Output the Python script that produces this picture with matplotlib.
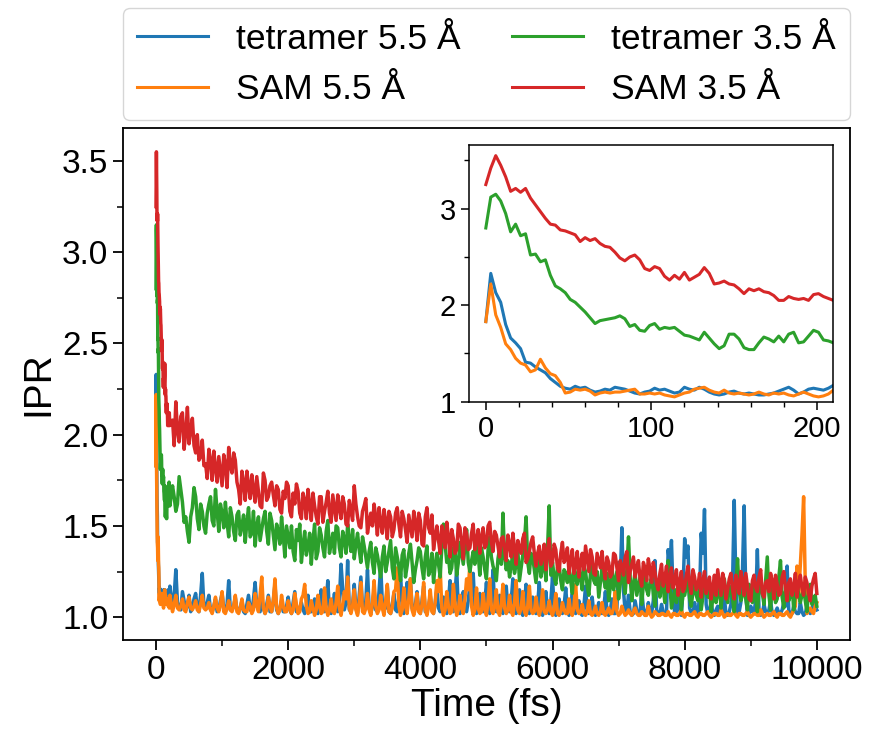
import numpy as np
import matplotlib
matplotlib.use("Agg")
import matplotlib.pyplot as plt
from matplotlib.ticker import MultipleLocator, FormatStrFormatter

plt.rcParams['font.family'] = ['Liberation Sans', 'DejaVu Sans']

# ---- data: early part (0-210 fs, shown in inset and main) ----
t_early = np.arange(0, 211, 3)
tet55_early = [1.83, 2.33, 2.13, 2.03, 1.80, 1.66, 1.61, 1.55, 1.41, 1.40,
               1.36, 1.33, 1.30, 1.24, 1.20, 1.16, 1.14, 1.13, 1.16, 1.14,
               1.15, 1.12, 1.10, 1.11, 1.13, 1.12, 1.15, 1.14, 1.13, 1.11,
               1.09, 1.08, 1.10, 1.11, 1.14, 1.12, 1.13, 1.11, 1.09, 1.10,
               1.15, 1.13, 1.12, 1.15, 1.13, 1.10, 1.08, 1.07, 1.08, 1.10,
               1.11, 1.09, 1.08, 1.09, 1.08, 1.07, 1.07, 1.08, 1.09, 1.11,
               1.13, 1.15, 1.12, 1.08, 1.10, 1.13, 1.14, 1.13, 1.12, 1.14, 1.17]
sam55_early = [1.83, 2.22, 1.90, 1.77, 1.60, 1.54, 1.45, 1.40, 1.38, 1.31,
               1.33, 1.44, 1.35, 1.29, 1.27, 1.20, 1.09, 1.10, 1.13, 1.12,
               1.13, 1.11, 1.07, 1.09, 1.10, 1.09, 1.10, 1.10, 1.11, 1.12,
               1.13, 1.08, 1.08, 1.09, 1.08, 1.09, 1.07, 1.06, 1.05, 1.07,
               1.09, 1.10, 1.13, 1.14, 1.15, 1.12, 1.10, 1.09, 1.12, 1.09,
               1.08, 1.09, 1.08, 1.07, 1.08, 1.10, 1.08, 1.07, 1.09, 1.08,
               1.09, 1.07, 1.06, 1.08, 1.10, 1.08, 1.06, 1.05, 1.06, 1.08, 1.12]
tet35_early = [2.80, 3.12, 3.15, 3.08, 2.95, 2.76, 2.84, 2.72, 2.74, 2.52,
               2.53, 2.45, 2.47, 2.31, 2.20, 2.17, 2.13, 2.06, 2.03, 1.98,
               1.93, 1.87, 1.81, 1.84, 1.85, 1.86, 1.87, 1.89, 1.86, 1.78,
               1.80, 1.74, 1.73, 1.79, 1.81, 1.75, 1.77, 1.76, 1.77, 1.73,
               1.69, 1.68, 1.66, 1.64, 1.72, 1.66, 1.60, 1.55, 1.58, 1.70,
               1.70, 1.65, 1.56, 1.54, 1.54, 1.61, 1.67, 1.65, 1.62, 1.68,
               1.62, 1.70, 1.72, 1.61, 1.62, 1.68, 1.74, 1.72, 1.64, 1.63, 1.61]
sam35_early = [3.25, 3.42, 3.55, 3.45, 3.33, 3.18, 3.21, 3.17, 3.21, 3.11,
               3.04, 2.97, 2.90, 2.84, 2.83, 2.78, 2.77, 2.75, 2.73, 2.66,
               2.70, 2.67, 2.69, 2.64, 2.61, 2.60, 2.55, 2.49, 2.46, 2.50,
               2.52, 2.47, 2.38, 2.36, 2.40, 2.38, 2.30, 2.26, 2.31, 2.27,
               2.34, 2.26, 2.29, 2.32, 2.39, 2.33, 2.22, 2.23, 2.25, 2.22,
               2.21, 2.17, 2.12, 2.17, 2.15, 2.17, 2.14, 2.13, 2.10, 2.05,
               2.05, 2.09, 2.07, 2.06, 2.07, 2.05, 2.11, 2.12, 2.09, 2.07, 2.05]

# ---- data: later part, samples at 250, 300, ... 10000 fs ----
t_late = np.arange(250, 10001, 50)
sam35_late = [
    2.08, 2.18, 1.96, 2.12, 2.01, 1.95, 2.09, 1.90, 1.86, 1.97,
    1.84, 1.92, 1.75, 1.82, 1.88, 1.72, 1.84, 1.93, 1.79, 1.86,
    1.70, 1.80, 1.64, 1.72, 1.78, 1.63, 1.69, 1.60, 1.75, 1.66,
    1.74, 1.61, 1.70, 1.57, 1.65, 1.72, 1.55, 1.62, 1.69, 1.54,
    1.64, 1.70, 1.53, 1.61, 1.51, 1.66, 1.58, 1.69, 1.52, 1.60,
    1.67, 1.54, 1.62, 1.50, 1.58, 1.72, 1.55, 1.49, 1.61, 1.46,
    1.57, 1.62, 1.45, 1.52, 1.59, 1.43, 1.55, 1.48, 1.60, 1.44,
    1.54, 1.41, 1.50, 1.58, 1.42, 1.53, 1.39, 1.60, 1.46, 1.37,
    1.50, 1.35, 1.45, 1.52, 1.33, 1.43, 1.37, 1.49, 1.32, 1.46,
    1.38, 1.51, 1.42, 1.35, 1.49, 1.40, 1.52, 1.36, 1.45, 1.33,
    1.44, 1.31, 1.40, 1.46, 1.29, 1.38, 1.43, 1.30, 1.36, 1.44,
    1.28, 1.39, 1.33, 1.26, 1.43, 1.30, 1.37, 1.25, 1.41, 1.32,
    1.24, 1.37, 1.29, 1.22, 1.35, 1.39, 1.25, 1.33, 1.23, 1.31,
    1.36, 1.21, 1.30, 1.24, 1.34, 1.20, 1.28, 1.33, 1.19, 1.29,
    1.22, 1.31, 1.17, 1.27, 1.32, 1.19, 1.25, 1.15, 1.29, 1.21,
    1.14, 1.27, 1.20, 1.12, 1.25, 1.16, 1.28, 1.13, 1.22, 1.17,
    1.11, 1.25, 1.18, 1.10, 1.23, 1.26, 1.12, 1.20, 1.15, 1.24,
    1.10, 1.19, 1.25, 1.12, 1.17, 1.09, 1.23, 1.14, 1.26, 1.11,
    1.20, 1.24, 1.10, 1.18, 1.13, 1.25, 1.09, 1.21, 1.16, 1.11,
    1.23, 1.12, 1.19, 1.09, 1.21, 1.13]
tet35_late = [
    1.72, 1.58, 1.77, 1.63, 1.55, 1.41, 1.60, 1.66, 1.48, 1.58,
    1.46, 1.62, 1.53, 1.70, 1.47, 1.57, 1.63, 1.44, 1.55, 1.42,
    1.58, 1.50, 1.41, 1.60, 1.46, 1.39, 1.55, 1.48, 1.58, 1.40,
    1.53, 1.37, 1.47, 1.55, 1.33, 1.44, 1.50, 1.31, 1.42, 1.30,
    1.47, 1.39, 1.29, 1.51, 1.36, 1.45, 1.33, 1.53, 1.40, 1.35,
    1.49, 1.33, 1.43, 1.51, 1.36, 1.32, 1.46, 1.30, 1.39, 1.27,
    1.41, 1.24, 1.34, 1.22, 1.39, 1.30, 1.42, 1.21, 1.33, 1.20,
    1.37, 1.28, 1.40, 1.19, 1.31, 1.36, 1.21, 1.39, 1.26, 1.19,
    1.35, 1.22, 1.51, 1.30, 1.24, 1.38, 1.23, 1.41, 1.29, 1.48,
    1.25, 1.36, 1.42, 1.23, 1.33, 1.21, 1.44, 1.28, 1.20, 1.38,
    1.57, 1.26, 1.22, 1.36, 1.29, 1.20, 1.34, 1.55, 1.24, 1.33,
    1.19, 1.35, 1.27, 1.20, 1.61, 1.30, 1.18, 1.29, 1.15, 1.24,
    1.28, 1.13, 1.22, 1.30, 1.15, 1.25, 1.12, 1.29, 1.18, 1.11,
    1.27, 1.16, 1.09, 1.28, 1.20, 1.10, 1.25, 1.13, 1.44, 1.09,
    1.25, 1.17, 1.07, 1.27, 1.12, 1.22, 1.06, 1.19, 1.24, 1.08,
    1.31, 1.05, 1.15, 1.19, 1.04, 1.12, 1.20, 1.06, 1.18, 1.09,
    1.04, 1.20, 1.11, 1.03, 1.18, 1.13, 1.05, 1.21, 1.08, 1.16,
    1.03, 1.32, 1.09, 1.19, 1.04, 1.14, 1.17, 1.03, 1.20, 1.07,
    1.33, 1.04, 1.16, 1.10, 1.31, 1.05, 1.17, 1.12, 1.04, 1.19,
    1.08, 1.16, 1.03, 1.18, 1.10, 1.06]
tet55_late = [
    1.05, 1.26, 1.06, 1.14, 1.04, 1.12, 1.05, 1.13, 1.03, 1.24,
    1.05, 1.12, 1.03, 1.10, 1.04, 1.13, 1.03, 1.20, 1.04, 1.11,
    1.03, 1.09, 1.02, 1.12, 1.03, 1.19, 1.04, 1.10, 1.02, 1.12,
    1.03, 1.18, 1.02, 1.09, 1.03, 1.11, 1.02, 1.14, 1.03, 1.08,
    1.02, 1.12, 1.03, 1.10, 1.02, 1.15, 1.03, 1.20, 1.02, 1.13,
    1.03, 1.29, 1.04, 1.31, 1.03, 1.18, 1.02, 1.22, 1.03, 1.26,
    1.02, 1.15, 1.03, 1.28, 1.04, 1.17, 1.02, 1.13, 1.03, 1.24,
    1.02, 1.19, 1.21, 1.03, 1.14, 1.02, 1.17, 1.03, 1.12, 1.02,
    1.16, 1.03, 1.11, 1.02, 1.20, 1.03, 1.27, 1.02, 1.14, 1.03,
    1.18, 1.24, 1.02, 1.13, 1.03, 1.19, 1.02, 1.26, 1.03, 1.12,
    1.02, 1.17, 1.03, 1.21, 1.02, 1.15, 1.01, 1.18, 1.02, 1.11,
    1.02, 1.19, 1.01, 1.14, 1.02, 1.22, 1.01, 1.10, 1.02, 1.16,
    1.01, 1.13, 1.02, 1.09, 1.01, 1.17, 1.02, 1.11, 1.01, 1.08,
    1.02, 1.14, 1.01, 1.10, 1.02, 1.30, 1.49, 1.03, 1.12, 1.01,
    1.09, 1.02, 1.15, 1.01, 1.08, 1.02, 1.31, 1.01, 1.07, 1.02,
    1.37, 1.42, 1.02, 1.10, 1.01, 1.43, 1.39, 1.02, 1.08, 1.01,
    1.46, 1.59, 1.02, 1.09, 1.01, 1.06, 1.02, 1.11, 1.01, 1.07,
    1.64, 1.02, 1.08, 1.61, 1.01, 1.06, 1.02, 1.37, 1.01, 1.07,
    1.02, 1.09, 1.01, 1.05, 1.02, 1.08, 1.28, 1.01, 1.06, 1.02,
    1.08, 1.01, 1.06, 1.02, 1.09, 1.04]
sam55_late = [
    1.03, 1.12, 1.04, 1.10, 1.03, 1.11, 1.04, 1.09, 1.03, 1.12,
    1.04, 1.08, 1.02, 1.11, 1.03, 1.14, 1.02, 1.09, 1.03, 1.12,
    1.02, 1.10, 1.03, 1.08, 1.02, 1.13, 1.03, 1.22, 1.02, 1.11,
    1.03, 1.21, 1.02, 1.12, 1.03, 1.09, 1.02, 1.13, 1.02, 1.10,
    1.18, 1.02, 1.09, 1.01, 1.12, 1.02, 1.16, 1.01, 1.10, 1.02,
    1.17, 1.01, 1.14, 1.22, 1.02, 1.15, 1.01, 1.19, 1.02, 1.13,
    1.01, 1.20, 1.02, 1.12, 1.01, 1.18, 1.02, 1.14, 1.27, 1.01,
    1.16, 1.02, 1.21, 1.01, 1.13, 1.02, 1.19, 1.01, 1.15, 1.02,
    1.20, 1.27, 1.01, 1.14, 1.02, 1.18, 1.01, 1.12, 1.02, 1.21,
    1.29, 1.01, 1.16, 1.02, 1.13, 1.01, 1.21, 1.02, 1.15, 1.01,
    1.18, 1.02, 1.12, 1.01, 1.20, 1.02, 1.14, 1.01, 1.17, 1.02,
    1.11, 1.01, 1.15, 1.02, 1.09, 1.01, 1.13, 1.01, 1.08, 1.02,
    1.10, 1.01, 1.18, 1.02, 1.07, 1.01, 1.09, 1.01, 1.06, 1.01,
    1.08, 1.01, 1.05, 1.02, 1.14, 1.01, 1.06, 1.01, 1.04, 1.01,
    1.05, 1.01, 1.03, 1.01, 1.06, 1.00, 1.03, 1.01, 1.02, 1.01,
    1.03, 1.00, 1.02, 1.01, 1.04, 1.00, 1.02, 1.01, 1.03, 1.00,
    1.02, 1.01, 1.03, 1.00, 1.02, 1.01, 1.04, 1.00, 1.02, 1.01,
    1.03, 1.00, 1.02, 1.01, 1.03, 1.00, 1.02, 1.01, 1.04, 1.00,
    1.02, 1.01, 1.03, 1.00, 1.02, 1.01, 1.03, 1.00, 1.04, 1.28,
    1.29, 1.66, 1.02, 1.05, 1.02, 1.08]

# ---- data: later part, samples at 275, 325, ... 9975 fs ----
t_mid = np.arange(275, 9976, 50)
sam35_mid = [
    1.94, 2.02, 2.10, 1.92, 2.15, 2.03, 1.94, 2.00, 1.88, 1.83,
    1.76, 1.86, 1.91, 1.74, 1.80, 1.89, 1.71, 1.83, 1.90, 1.74,
    1.62, 1.74, 1.80, 1.65, 1.70, 1.77, 1.61, 1.79, 1.64, 1.72,
    1.67, 1.72, 1.59, 1.69, 1.74, 1.58, 1.68, 1.73, 1.57, 1.68,
    1.54, 1.62, 1.68, 1.55, 1.66, 1.52, 1.63, 1.57, 1.67, 1.53,
    1.60, 1.66, 1.51, 1.64, 1.53, 1.62, 1.50, 1.58, 1.65, 1.52,
    1.50, 1.55, 1.60, 1.46, 1.53, 1.58, 1.44, 1.57, 1.51, 1.58,
    1.48, 1.56, 1.44, 1.52, 1.57, 1.40, 1.55, 1.49, 1.56, 1.44,
    1.42, 1.50, 1.38, 1.44, 1.48, 1.35, 1.51, 1.41, 1.49, 1.37,
    1.46, 1.37, 1.48, 1.44, 1.38, 1.50, 1.41, 1.47, 1.39, 1.43,
    1.37, 1.45, 1.33, 1.38, 1.42, 1.35, 1.46, 1.32, 1.41, 1.35,
    1.35, 1.29, 1.40, 1.36, 1.28, 1.40, 1.27, 1.35, 1.30, 1.38,
    1.31, 1.24, 1.36, 1.30, 1.26, 1.32, 1.37, 1.24, 1.35, 1.27,
    1.26, 1.33, 1.22, 1.35, 1.27, 1.31, 1.23, 1.36, 1.25, 1.33,
    1.27, 1.21, 1.30, 1.20, 1.26, 1.30, 1.18, 1.24, 1.17, 1.28,
    1.22, 1.16, 1.26, 1.19, 1.14, 1.23, 1.18, 1.26, 1.15, 1.24,
    1.20, 1.13, 1.22, 1.16, 1.12, 1.19, 1.24, 1.10, 1.21, 1.15,
    1.23, 1.13, 1.20, 1.24, 1.10, 1.20, 1.16, 1.22, 1.13, 1.19,
    1.14, 1.20, 1.23, 1.12, 1.22, 1.16, 1.19, 1.12, 1.24, 1.18,
    1.16, 1.22, 1.13, 1.17, 1.24]
tet35_mid = [
    1.66, 1.62, 1.70, 1.52, 1.47, 1.55, 1.71, 1.54, 1.62, 1.50,
    1.57, 1.66, 1.50, 1.58, 1.62, 1.49, 1.52, 1.60, 1.47, 1.56,
    1.45, 1.56, 1.52, 1.44, 1.58, 1.50, 1.42, 1.54, 1.47, 1.57,
    1.45, 1.51, 1.40, 1.45, 1.50, 1.38, 1.36, 1.48, 1.51, 1.39,
    1.34, 1.46, 1.42, 1.32, 1.49, 1.38, 1.47, 1.35, 1.46, 1.50,
    1.38, 1.47, 1.35, 1.42, 1.48, 1.40, 1.37, 1.44, 1.33, 1.36,
    1.30, 1.38, 1.28, 1.33, 1.25, 1.36, 1.27, 1.38, 1.28, 1.34,
    1.22, 1.35, 1.30, 1.26, 1.38, 1.27, 1.33, 1.23, 1.35, 1.29,
    1.29, 1.38, 1.40, 1.33, 1.27, 1.36, 1.30, 1.35, 1.39, 1.30,
    1.31, 1.29, 1.35, 1.38, 1.26, 1.37, 1.33, 1.25, 1.32, 1.29,
    1.33, 1.31, 1.28, 1.24, 1.37, 1.27, 1.41, 1.30, 1.35, 1.26,
    1.28, 1.22, 1.34, 1.38, 1.23, 1.22, 1.27, 1.20, 1.26, 1.19,
    1.20, 1.27, 1.18, 1.21, 1.28, 1.17, 1.24, 1.20, 1.25, 1.19,
    1.21, 1.24, 1.17, 1.15, 1.25, 1.18, 1.20, 1.26, 1.22, 1.18,
    1.12, 1.22, 1.18, 1.15, 1.19, 1.13, 1.20, 1.11, 1.16, 1.21,
    1.18, 1.10, 1.08, 1.16, 1.13, 1.17, 1.10, 1.14, 1.12, 1.15,
    1.11, 1.15, 1.17, 1.10, 1.08, 1.19, 1.14, 1.12, 1.17, 1.10,
    1.16, 1.14, 1.12, 1.10, 1.18, 1.08, 1.11, 1.15, 1.13, 1.20,
    1.12, 1.19, 1.08, 1.22, 1.11, 1.14, 1.09, 1.18, 1.13, 1.12,
    1.12, 1.09, 1.14, 1.07, 1.12]
tet55_mid = [
    1.12, 1.08, 1.04, 1.09, 1.06, 1.03, 1.10, 1.05, 1.12, 1.06,
    1.08, 1.04, 1.06, 1.03, 1.09, 1.05, 1.07, 1.04, 1.06, 1.04,
    1.05, 1.03, 1.07, 1.04, 1.10, 1.06, 1.03, 1.05, 1.07, 1.03,
    1.09, 1.04, 1.05, 1.03, 1.06, 1.04, 1.08, 1.03, 1.05, 1.04,
    1.06, 1.03, 1.05, 1.04, 1.07, 1.05, 1.09, 1.03, 1.06, 1.05,
    1.10, 1.16, 1.08, 1.04, 1.07, 1.05, 1.12, 1.06, 1.09, 1.05,
    1.06, 1.04, 1.14, 1.08, 1.05, 1.03, 1.07, 1.04, 1.11, 1.06,
    1.08, 1.10, 1.05, 1.07, 1.04, 1.09, 1.03, 1.06, 1.04, 1.08,
    1.05, 1.07, 1.04, 1.09, 1.06, 1.12, 1.04, 1.07, 1.05, 1.09,
    1.12, 1.05, 1.06, 1.04, 1.08, 1.05, 1.11, 1.04, 1.06, 1.05,
    1.07, 1.04, 1.09, 1.05, 1.06, 1.03, 1.08, 1.04, 1.05, 1.03,
    1.07, 1.04, 1.05, 1.03, 1.09, 1.04, 1.05, 1.03, 1.06, 1.04,
    1.05, 1.03, 1.04, 1.02, 1.06, 1.03, 1.05, 1.02, 1.04, 1.03,
    1.05, 1.03, 1.04, 1.02, 1.05, 1.21, 1.14, 1.04, 1.03, 1.02,
    1.04, 1.02, 1.05, 1.02, 1.03, 1.09, 1.04, 1.02, 1.03, 1.02,
    1.28, 1.12, 1.03, 1.04, 1.15, 1.33, 1.05, 1.02, 1.03, 1.12,
    1.35, 1.07, 1.03, 1.02, 1.04, 1.02, 1.03, 1.02, 1.03, 1.20,
    1.18, 1.03, 1.26, 1.12, 1.02, 1.03, 1.10, 1.04, 1.02, 1.03,
    1.04, 1.02, 1.03, 1.02, 1.04, 1.06, 1.04, 1.02, 1.03, 1.02,
    1.03, 1.02, 1.04, 1.03, 1.06]
sam55_mid = [
    1.07, 1.05, 1.06, 1.04, 1.08, 1.05, 1.06, 1.04, 1.07, 1.05,
    1.05, 1.04, 1.06, 1.05, 1.07, 1.03, 1.05, 1.04, 1.06, 1.03,
    1.05, 1.04, 1.03, 1.06, 1.04, 1.07, 1.12, 1.05, 1.04, 1.06,
    1.09, 1.05, 1.04, 1.06, 1.03, 1.05, 1.04, 1.07, 1.03, 1.12,
    1.06, 1.03, 1.05, 1.04, 1.06, 1.03, 1.05, 1.04, 1.03, 1.08,
    1.05, 1.07, 1.10, 1.05, 1.06, 1.04, 1.08, 1.03, 1.05, 1.04,
    1.08, 1.06, 1.04, 1.05, 1.09, 1.03, 1.05, 1.15, 1.06, 1.04,
    1.06, 1.10, 1.04, 1.05, 1.03, 1.07, 1.04, 1.06, 1.03, 1.08,
    1.14, 1.05, 1.04, 1.06, 1.03, 1.07, 1.04, 1.05, 1.10, 1.15,
    1.06, 1.04, 1.05, 1.03, 1.05, 1.09, 1.04, 1.06, 1.03, 1.07,
    1.05, 1.04, 1.03, 1.08, 1.04, 1.05, 1.03, 1.06, 1.04, 1.03,
    1.04, 1.05, 1.03, 1.04, 1.03, 1.05, 1.02, 1.03, 1.04, 1.02,
    1.03, 1.06, 1.04, 1.03, 1.02, 1.03, 1.02, 1.03, 1.02, 1.03,
    1.02, 1.03, 1.02, 1.05, 1.03, 1.02, 1.03, 1.02, 1.02, 1.03,
    1.02, 1.01, 1.02, 1.01, 1.02, 1.01, 1.02, 1.01, 1.02, 1.01,
    1.01, 1.02, 1.01, 1.02, 1.01, 1.02, 1.01, 1.02, 1.01, 1.02,
    1.01, 1.02, 1.01, 1.01, 1.02, 1.01, 1.02, 1.01, 1.01, 1.02,
    1.01, 1.02, 1.01, 1.02, 1.01, 1.01, 1.02, 1.01, 1.02, 1.01,
    1.01, 1.02, 1.01, 1.02, 1.01, 1.02, 1.01, 1.02, 1.06, 1.12,
    1.45, 1.18, 1.04, 1.03, 1.06]

labels = ["tetramer 5.5 Å", "SAM 5.5 Å", "tetramer 3.5 Å", "SAM 3.5 Å"]
colors = ["#1f77b4", "#ff7f0e", "#2ca02c", "#d62728"]
early = [tet55_early, sam55_early, tet35_early, sam35_early]
late = [tet55_late, sam55_late, tet35_late, sam35_late]
mid = [tet55_mid, sam55_mid, tet35_mid, sam35_mid]

fig = plt.figure(figsize=(8.69, 7.32), dpi=100)
ax = fig.add_axes([0.1415, 0.1257, 0.8365, 0.6993])

t_lm = np.concatenate([t_late, t_mid])
order = np.argsort(t_lm)
t_all = np.concatenate([t_early, t_lm[order]])
for e, l, m, c, lab in zip(early, late, mid, colors, labels):
    y = np.concatenate([e, np.concatenate([l, m])[order]])
    ax.plot(t_all, y, color=c, lw=2.5, label=lab)

ax.set_xlim(-500, 10500)
ax.set_ylim(0.875, 3.68)
ax.xaxis.set_major_locator(MultipleLocator(2000))
ax.xaxis.set_minor_locator(MultipleLocator(1000))
ax.yaxis.set_major_locator(MultipleLocator(0.5))
ax.yaxis.set_minor_locator(MultipleLocator(0.25))
ax.yaxis.set_major_formatter(FormatStrFormatter('%.1f'))
ax.tick_params(which='major', length=7, width=1.3, labelsize=24)
ax.tick_params(which='minor', length=4, width=1.1)
for s in ax.spines.values():
    s.set_linewidth(1.3)
ax.set_xlabel("Time (fs)", fontsize=28, labelpad=2)
ax.set_ylabel("IPR", fontsize=28)

leg = ax.legend(loc='lower left', bbox_to_anchor=(0, 1.015, 1, 0.2), mode='expand',
                ncol=2, fontsize=25.5, borderaxespad=0, handlelength=2.0)
for h in leg.get_lines():
    h.set_linewidth(2.2)

# inset
axi = fig.add_axes([0.540, 0.4512, 0.419, 0.3507])
for e, c in zip(early, colors):
    axi.plot(t_early, e, color=c, lw=2.2)
axi.set_xlim(-10, 210)
axi.set_ylim(1, 3.66)
axi.xaxis.set_major_locator(MultipleLocator(100))
axi.xaxis.set_minor_locator(MultipleLocator(20))
axi.yaxis.set_major_locator(MultipleLocator(1))
axi.yaxis.set_minor_locator(MultipleLocator(0.5))
axi.tick_params(which='major', length=6, width=1.1, labelsize=21)
axi.tick_params(which='minor', length=3.5, width=1.0)
for s in axi.spines.values():
    s.set_linewidth(1.1)

fig.savefig("out.png", dpi=100)
